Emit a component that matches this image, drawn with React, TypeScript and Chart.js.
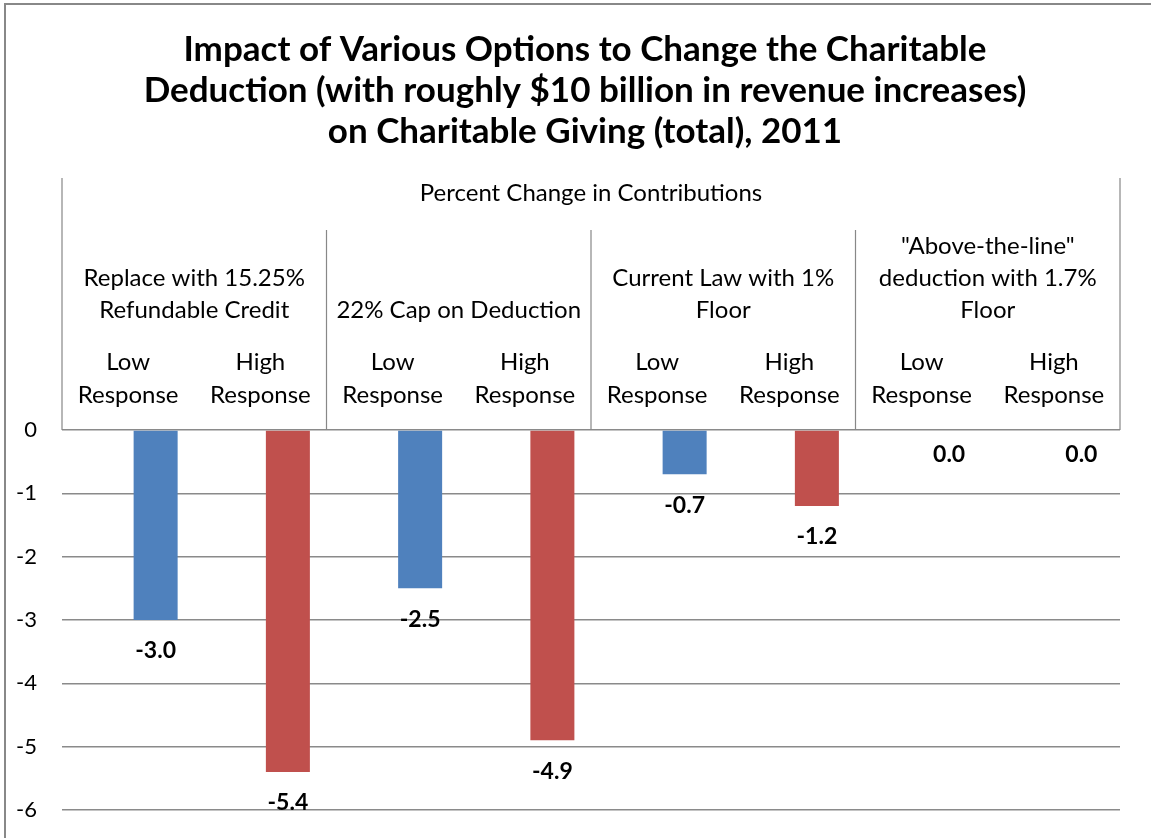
import React, { useEffect, useRef } from "react";
import { Chart, registerables } from "chart.js";

Chart.register(...registerables);

const titleLines = [
  "Impact of Various Options to Change the Charitable",
  "Deduction (with roughly $10 billion in revenue increases)",
  "on Charitable Giving (total), 2011",
];
const topHeader = "Percent Change in Contributions";
const groupLabels: string[][] = [
  ["Replace with 15.25%", "Refundable Credit"],
  ["22% Cap on Deduction"],
  ["Current Law with 1%", "Floor"],
  ['"Above-the-line"', "deduction with 1.7%", "Floor"],
];
const categories: string[][] = [
  ["Low", "Response"], ["High", "Response"],
  ["Low", "Response"], ["High", "Response"],
  ["Low", "Response"], ["High", "Response"],
  ["Low", "Response"], ["High", "Response"],
];
const values = [-3.0, -5.4, -2.5, -4.9, -0.7, -1.2, 0.0, 0.0];
const barColors = ["#4F81BD", "#C0504D", "#4F81BD", "#C0504D", "#4F81BD", "#C0504D", "#4F81BD", "#C0504D"];
const placeholder = [null, null, null, null, null, null, null, null];
const yMin = -6;
const yMax = 0;
const yStep = 1;

const FONT = "Lato, 'Open Sans', sans-serif";

const decorPlugin = {
  id: "decor",
  beforeDraw(chart: any) {
    const ctx = chart.ctx;
    ctx.save();
    ctx.fillStyle = "#ffffff";
    ctx.fillRect(0, 0, chart.width, chart.height);
    ctx.strokeStyle = "#888888";
    ctx.lineWidth = 2;
    ctx.strokeRect(5, 4, chart.width + 20, chart.height + 20);
    ctx.restore();
  },
  afterDraw(chart: any) {
    const ctx = chart.ctx;
    const xs = chart.scales.x;
    const area = chart.chartArea;
    const top = area.top;
    const catW = (area.right - area.left) / categories.length;
    ctx.save();
    ctx.fillStyle = "#000";
    ctx.textAlign = "center";
    ctx.textBaseline = "middle";
    // title
    ctx.font = "bold 35px " + FONT;
    titleLines.forEach((ln, i) => {
      ctx.fillText(ln, 585, 50 + i * 41);
    });
    ctx.font = "24px " + FONT;
    ctx.fillText(topHeader, (area.left + area.right) / 2, top - 237);
    groupLabels.forEach((lines, g) => {
      const cx = (xs.getPixelForValue(2 * g) + xs.getPixelForValue(2 * g + 1)) / 2;
      const n = lines.length;
      lines.forEach((ln, i) => {
        ctx.fillText(ln, cx, top - 120 - (n - 1 - i) * 32);
      });
    });
    categories.forEach((lines, i) => {
      const cx = xs.getPixelForValue(i);
      ctx.fillText(lines[0], cx, top - 68);
      ctx.fillText(lines[1], cx, top - 35);
    });
    ctx.strokeStyle = "#888888";
    ctx.lineWidth = 1.2;
    ctx.beginPath();
    ctx.moveTo(area.left, top - 252);
    ctx.lineTo(area.left, top);
    ctx.moveTo(area.right, top - 252);
    ctx.lineTo(area.right, top);
    for (let g = 1; g < groupLabels.length; g++) {
      const x = xs.getPixelForValue(2 * g) - catW / 2;
      ctx.moveTo(x, top - 200);
      ctx.lineTo(x, top);
    }
    ctx.stroke();
    ctx.font = "bold 23px " + FONT;
    const meta = chart.getDatasetMeta(1);
    meta.data.forEach((bar: any, i: number) => {
      const v = values[i];
      const y = v < 0 ? bar.y + 31 : bar.y + 25;
      ctx.fillText(v.toFixed(1), bar.x, y);
    });
    ctx.restore();
  },
};

export default function App() {
  const ref = useRef<HTMLCanvasElement | null>(null);
  useEffect(() => {
    if (!ref.current) return;
    const chart = new Chart(ref.current, {
      type: "bar",
      data: {
        labels: categories.map((c) => c.join(" ")),
        datasets: [
          { label: "pad", data: placeholder as any, backgroundColor: "rgba(0,0,0,0)" },
          {
            label: "Percent Change",
            data: values,
            backgroundColor: barColors,
            borderWidth: 0,
          },
        ],
      },
      options: {
        responsive: false,
        animation: false,
        devicePixelRatio: 1,
        categoryPercentage: 0.832,
        barPercentage: 0.8,
        layout: { padding: { left: 0, right: 31, top: 178, bottom: 28 } },
        plugins: {
          legend: { display: false },
          tooltip: { enabled: false },
          title: { display: false },
        },
        scales: {
          x: {
            position: "top",
            grid: { display: false },
            border: { display: false },
            ticks: { display: false },
            afterFit: (s: any) => { s.height = 252; },
          },
          y: {
            min: yMin,
            max: yMax,
            ticks: {
              stepSize: yStep,
              color: "#000",
              font: { family: FONT, size: 22 },
              padding: 25,
            },
            grid: { color: "#8a8a8a", lineWidth: 1.5, drawTicks: false },
            border: { display: false },
            afterFit: (s: any) => {
              s.width = 62;
              s.paddingTop = 0;
              s.paddingBottom = 0;
            },
          },
        },
      },
      plugins: [decorPlugin],
    });
    return () => chart.destroy();
  }, []);
  return (
    <div style={{ position: "absolute", left: 0, top: 0, width: 1151, height: 838 }}>
      <canvas ref={ref} width={1151} height={838} />
    </div>
  );
}
